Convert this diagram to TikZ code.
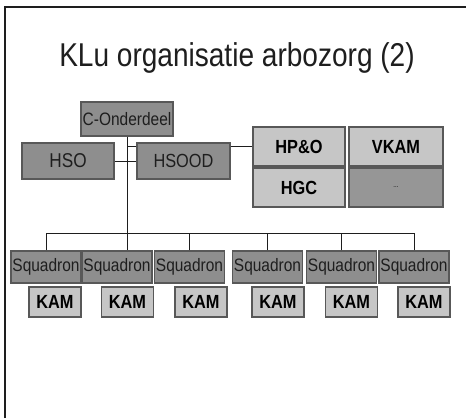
\documentclass[tikz,border=0pt]{standalone}
\usepackage{fontspec}
\setmainfont{Liberation Sans}[FakeStretch=0.86]
\newfontfamily\titlefont{Liberation Sans}[FakeStretch=0.85]
\usepackage{tikz}
\usetikzlibrary{positioning}
\definecolor{darkfill}{HTML}{8E8E8E}
\definecolor{lightfill}{HTML}{C6C6C6}
\definecolor{rim}{HTML}{585858}
\definecolor{ink}{HTML}{1E1E1E}
\tikzset{
  darkbox/.style={draw=rim,line width=1.2pt,fill=darkfill,text=ink,inner sep=0pt,
    minimum width=92pt,minimum height=36pt,font=\fontsize{19}{19}\selectfont},
  lightbox/.style={draw=rim,line width=1.2pt,fill=lightfill,text=black,inner sep=0pt,
    minimum width=92pt,minimum height=39pt,font=\fontsize{19}{19}\selectfont\bfseries},
  squad/.style={darkbox,minimum width=70pt,minimum height=32pt,font=\fontsize{18}{18}\selectfont},
  kam/.style={lightbox,minimum width=52pt,minimum height=30pt},
  wire/.style={draw=ink,line width=0.9pt}
}
\begin{document}
\begin{tikzpicture}[x=1pt,y=-1pt]
\useasboundingbox (0,0) rectangle (466,418);
\fill[white] (0,0) rectangle (466,418);
\draw[ink,line width=2pt] (5,418) -- (5,7) -- (466,7); %frame
\node[anchor=base,text=ink,font=\fontsize{33}{33}\titlefont] (title) at (237,66) {KLu organisatie arbozorg (2)};
  %----top----%
  \node[darkbox,minimum height=34pt,font=\fontsize{18}{18}\selectfont] (cond) at (127,119) {C-Onderdeel};
  \node[darkbox,font=\fontsize{20}{20}\selectfont] (hso) at (68,161) {HSO};
  \node[darkbox,minimum width=93pt] (hsood) at (183.5,161) {HSOOD};
  \node[lightbox] (hpo) at (299,146.5) {HP\&O};
  \node[lightbox,minimum width=94pt] (vkam) at (396,146.5) {VKAM};
  \node[lightbox] (hgc) at (299,187.5) {HGC};
  \node[lightbox,minimum width=94pt,fill=darkfill!85!lightfill,font=\fontsize{7}{7}\selectfont] (more) at (396,187.5) {...};
  %----squadrons----%
  \foreach \i/\x in {1/46,2/117,3/189.5,4/267.5,5/341.5,6/414}
    \node[squad] (s\i) at (\x,267) {Squadron};
  \foreach \i/\x in {1/55,2/127.5,3/201,4/278,5/351.5,6/424}
    \node[kam] (k\i) at (\x,302) {KAM};
  %----lines----%
  \coordinate (bus) at (0,233);
  \draw[wire] (cond.south) -- (cond.south |- s2.north);
  \draw[wire] (hso) -- (hsood);
  \draw[wire] ([yshift=-4pt]hsood.north west) -| (cond.south);
  \draw[wire] (hsood.east |- hpo.west) -- (hpo.west);
  \draw[wire] (bus -| s1.north) -- (bus -| s6.north);
  \foreach \i in {1,3,4,5,6}
    \draw[wire] (s\i.north) -- (s\i.north |- bus);
\end{tikzpicture}
\end{document}
